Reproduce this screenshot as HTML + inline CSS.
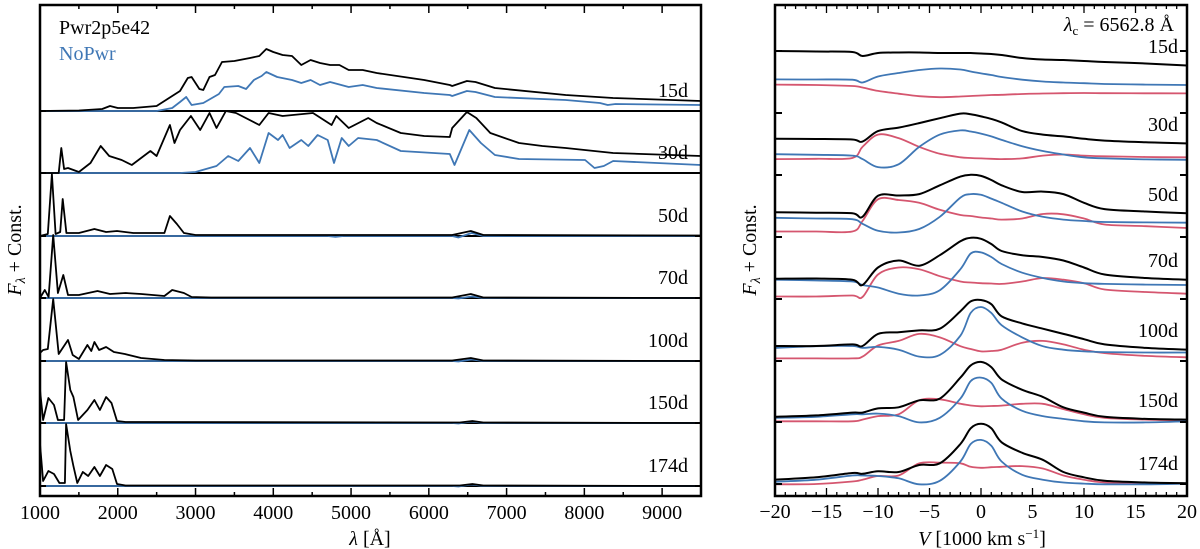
<!DOCTYPE html>
<html><head><meta charset="utf-8">
<style>
html,body{margin:0;padding:0;background:#fff;}
svg{display:block;font-family:"Liberation Serif","DejaVu Serif",serif;}
</style></head>
<body>
<svg id="chart" width="1200" height="549" viewBox="0 0 1200 549" xmlns="http://www.w3.org/2000/svg">
<g id="left"></g>
<g id="right"></g>
</svg>
<script>
// ---------- data ----------
const epochs = ["15d","30d","50d","70d","100d","150d","174d"];
const leftOffsets = [38.5,32.3,26.0,19.8,13.5,7.3,1.0];
const rightOffsets = [0,0,0,0,0,0,0];
const rightTicks = [44.5,38.3,32.1,25.9,19.7,13.5,7.4,1.2];
const lambdaTicks = [1000,2000,3000,4000,5000,6000,7000,8000,9000];
const velTicks = [-20,-15,-10,-5,0,5,10,15,20];
const velTickLabels = ["\u221220","\u221215","\u221210","\u22125","0","5","10","15","20"];

const wl15b=[1000,1500,1800,1900,2000,2200,2500,2600,2700,2800,2900,2950,3050,3100,3180,3250,3340,3500,3700,3820,3910,4000,4120,4240,4360,4480,4600,4730,4850,4970,5150,5330,5940,6270,6300,6490,6600,6850,7760,8370,9500];
const f15b=[0,0.05,0.2,0.5,0.3,0.3,0.5,1.0,1.5,2.0,3.3,3.4,2.2,2.1,3.4,3.6,4.9,5.0,5.3,5.5,6.2,5.9,5.6,5.5,4.6,5.1,4.8,4.6,4.6,4.1,4.1,3.8,3.1,2.6,2.5,3.0,2.9,2.3,1.6,1.3,1.0];
const wl15n=[1000,2500,2700,2800,2880,2950,3100,3300,3370,3550,3650,3750,3850,3910,4050,4240,4360,4480,4600,4730,4970,5150,5330,5940,6270,6300,6490,6600,6850,7760,8200,8300,8400,9500];
const f15n=[0,0,0.3,0.9,1.4,0.6,0.8,1.7,2.4,2.5,2.2,3.1,3.5,3.9,3.4,3.1,2.8,3.1,2.6,2.9,2.4,2.6,2.3,1.8,1.6,1.5,2.0,1.9,1.4,1.1,0.8,0.6,0.7,0.6];
const wl30b=[1000,1240,1274,1310,1360,1500,1650,1780,1890,2050,2180,2420,2500,2670,2730,2800,2940,3060,3180,3270,3390,3520,3820,3940,4120,4510,4750,4810,4970,5220,5330,5640,5940,6270,6300,6490,6610,6790,7160,7460,7760,8370,9500];
const f30b=[0,0,2.5,0.4,0.5,0.1,1.0,2.7,1.7,1.3,0.8,2.2,1.7,4.8,3.0,4.3,5.7,4.3,6.0,4.5,6.2,6.0,4.8,6.0,5.7,6.0,4.8,5.7,4.5,5.5,5.0,4.0,3.7,3.6,4.5,6.1,5.5,4.0,3.0,2.7,2.5,2.0,1.7];
const wl30n=[1000,2800,3000,3270,3420,3550,3700,3820,3940,4060,4120,4210,4360,4450,4570,4700,4780,4880,4970,5090,5330,5640,6270,6330,6520,6670,6850,7160,8010,8130,8250,8370,9500];
const f30n=[0,0,0.1,0.7,1.7,1.2,2.5,1.0,4.0,3.3,3.8,2.5,3.3,2.7,3.8,3.3,1.0,3.5,2.7,3.5,3.3,2.2,1.9,0.8,4.3,3.0,1.8,1.4,1.3,0.5,0.7,1.2,0.8];
const wl50b=[1000,1100,1153,1200,1260,1292,1340,1500,1700,1850,1990,2200,2600,2670,2760,2850,3000,6300,6540,6700,9500];
const f50b=[0,0.2,6.2,0.2,0.4,3.7,0.3,0.3,0.7,0.4,0.5,0.3,0.3,2.0,1.2,0.3,0.1,0.1,0.5,0.1,0.05];
const wl70b=[1000,1062,1110,1170,1230,1300,1360,1500,1740,1900,2100,2300,2600,2700,2850,2950,3200,6300,6540,6700,9500];
const f70b=[0,0.8,0.1,6.3,0.5,2.3,0.3,0.3,0.7,0.4,0.5,0.4,0.2,0.8,0.5,0.1,0.05,0.05,0.4,0.05,0];
const wl100b=[1000,1040,1100,1170,1240,1360,1420,1500,1610,1660,1700,1760,1850,1950,2090,2300,2600,3000,6300,6540,6700,9500];
const f100b=[0.8,1.1,1.2,6.2,0.7,2.1,0.6,0.2,1.6,1.0,1.9,1.1,1.4,0.9,0.7,0.3,0.1,0.05,0.05,0.3,0.05,0];
const wl150b=[1000,1040,1108,1180,1230,1310,1335,1390,1430,1490,1610,1700,1770,1850,1920,1990,2100,6400,6560,6700,9500];
const f150b=[3.3,0.3,2.5,1.8,0.3,0.3,6.1,3.3,2.6,0.3,1.3,2.3,1.3,2.6,2.0,0.2,0.1,0.05,0.2,0.05,0];
const wl174b=[1000,1040,1108,1180,1250,1320,1335,1390,1430,1480,1550,1620,1700,1770,1850,1930,1990,2100,6400,6560,6700,9500];
const f174b=[4.2,0.5,1.5,1.2,0.3,0.3,6.2,3.5,2.0,0.3,1.4,1.0,1.9,1.0,2.1,1.7,0.2,0.05,0.05,0.2,0.05,0];
const wlFlat=[1000,4700,4800,4900,6300,6380,6550,6700,9500];
const f50n=[0,0,-0.08,0,0,-0.15,0.3,0,0];
const fLate=[0,0,0,0,0,-0.05,0.15,0,0];

const vel=[-20,-16,-12.5,-11.5,-10,-8,-6,-4,-2,-1,0,1,2,4,6,8,10,12,16,20];
const r15k=[44.5,44.45,44.4,44.0,44.3,44.35,44.35,44.3,44.3,44.3,44.25,44.2,44.1,43.8,43.65,43.6,43.5,43.4,43.25,43.05];
const r15b=[41.66,41.65,41.63,41.35,41.95,42.3,42.6,42.75,42.65,42.45,42.26,42.1,41.9,41.63,41.45,41.35,41.28,41.2,41.14,41.1];
const r15r=[41.14,41.1,41.0,40.85,40.51,40.23,39.98,39.88,39.95,40.0,40.05,40.1,40.12,40.2,40.25,40.28,40.3,40.28,40.27,40.26];
const r30k=[35.72,35.7,35.65,35.44,36.49,36.84,37.29,37.78,38.24,38.17,37.96,37.71,37.36,36.49,36.14,35.96,35.72,35.54,35.37,35.26];
const r30b=[34.18,34.12,34.04,33.69,32.89,33.17,34.91,36.14,36.56,36.45,36.24,35.96,35.61,34.98,34.5,34.15,33.87,33.76,33.66,33.62];
const r30r=[33.69,33.72,33.8,34.91,36.14,35.79,34.91,34.22,33.87,33.8,33.76,33.72,33.69,33.76,34.04,34.15,34.04,33.97,33.9,33.87];
const r50k=[28.38,28.33,28.27,27.92,30.02,30.05,30.19,31.07,31.94,32.12,32.01,31.6,31.07,30.4,30.44,30.19,29.32,28.69,28.45,28.27];
const r50b=[27.82,27.75,27.68,27.22,26.52,26.35,26.7,27.92,29.84,30.19,30.12,29.74,29.32,28.45,27.92,27.64,27.5,27.4,27.36,27.33];
const r50r=[26.45,26.45,26.45,27.5,29.67,29.6,29.32,28.62,28.1,28.0,27.85,27.75,27.64,27.75,28.2,28.17,27.75,27.15,26.98,26.8];
const r70k=[21.73,21.75,21.63,21.1,22.85,23.55,23.03,24.08,25.47,25.82,25.72,25.2,24.5,24.08,23.9,23.55,22.85,22.15,21.8,21.63];
const r70b=[21.63,21.55,21.45,21.1,20.85,20.23,20.05,20.58,22.68,24.25,24.36,23.9,23.2,22.33,21.8,21.45,21.28,21.21,21.14,21.1];
const r70r=[19.95,19.95,20.05,19.9,22.15,22.85,22.68,21.98,21.45,21.35,21.28,21.25,21.21,21.45,21.8,21.63,21.28,20.65,20.4,20.23];
const r100k=[15.0,15.0,15.16,15.0,16.21,16.38,16.56,16.73,18.48,19.46,19.6,19.18,17.96,17.26,16.73,16.21,15.68,15.16,14.81,14.63];
const r100b=[14.81,14.98,15.0,14.81,14.91,14.63,13.94,14.11,16.03,18.31,18.9,18.31,17.08,15.86,14.98,14.63,14.46,14.39,14.35,14.35];
const r100r=[13.76,13.76,13.76,13.94,15.05,15.51,16.21,15.86,14.98,14.7,14.46,14.5,14.63,15.33,15.51,15.16,14.63,14.29,14.01,13.87];
const r150k=[7.92,8.06,8.34,8.34,8.76,8.87,9.57,9.74,11.84,13.06,13.41,12.89,11.66,10.62,9.91,8.87,8.34,7.92,7.71,7.64];
const r150b=[7.82,7.92,8.17,8.17,8.24,7.99,7.36,7.82,9.74,11.49,11.84,11.31,9.74,8.52,7.99,7.71,7.47,7.36,7.36,7.47];
const r150r=[7.47,7.47,7.47,7.64,7.99,8.17,9.57,9.67,9.22,9.05,8.97,9.0,9.04,9.22,9.22,8.69,8.17,7.82,7.64,7.57];
const r174k=[1.63,1.87,2.3,2.22,2.47,2.4,3.1,3.27,5.2,6.77,7.22,6.77,5.37,4.32,3.62,2.4,1.87,1.52,1.35,1.28];
const r174b=[1.42,1.63,2.05,2.05,2.0,1.77,1.17,1.52,3.45,5.2,5.61,5.02,3.45,2.12,1.63,1.35,1.24,1.17,1.17,1.24];
const r174r=[1.17,1.2,1.45,1.63,2.0,2.05,3.27,3.34,3.27,2.92,2.82,2.88,2.92,2.99,2.75,2.05,1.63,1.35,1.24,1.24];

// ---------- scales ----------
const NS="http://www.w3.org/2000/svg";
const L={x0:40,x1:701,y0:5,y1:496};
const R={x0:775,x1:1187,y0:5,y1:496};
function xl(w){return L.x0+(w-1000)*(L.x1-L.x0)/8500;}
function xr(v){return R.x0+(v+20)*(R.x1-R.x0)/40;}
function yf(f){return 496-f*10;}
const BLACK="#000",BLUE="#3f77b5",RED="#d5566f";
const FS=20;

function mk(tag,attrs,parent){const e=document.createElementNS(NS,tag);for(const k in attrs)e.setAttribute(k,attrs[k]);parent.appendChild(e);return e;}
function txt(s,x,y,anchor,parent,size,fill){const t=mk("text",{x:x,y:y,"text-anchor":anchor,"font-size":size||FS,fill:fill||"#000"},parent);t.textContent=s;return t;}

const left=document.getElementById("left");
const right=document.getElementById("right");

function linePath(xs,ys,fx,off){return xs.map((x,i)=>(i?"L":"M")+fx(x).toFixed(1)+","+yf(ys[i]+off).toFixed(1)).join(" ");}
function smoothPath(xs,ys,fx,off){
  const P=xs.map((x,i)=>[fx(x),yf(ys[i]+off)]);
  let d="M"+P[0][0].toFixed(1)+","+P[0][1].toFixed(1);
  for(let i=0;i<P.length-1;i++){
    const p0=P[Math.max(0,i-1)],p1=P[i],p2=P[i+1],p3=P[Math.min(P.length-1,i+2)];
    const c1=[p1[0]+(p2[0]-p0[0])/6,p1[1]+(p2[1]-p0[1])/6];
    const c2=[p2[0]-(p3[0]-p1[0])/6,p2[1]-(p3[1]-p1[1])/6];
    d+=" C"+c1[0].toFixed(1)+","+c1[1].toFixed(1)+" "+c2[0].toFixed(1)+","+c2[1].toFixed(1)+" "+p2[0].toFixed(1)+","+p2[1].toFixed(1);
  }
  return d;
}

const leftSeries=[
 [wl15b,f15b,wl15n,f15n],[wl30b,f30b,wl30n,f30n],[wl50b,f50b,wlFlat,f50n],
 [wl70b,f70b,wlFlat,fLate],[wl100b,f100b,wlFlat,fLate],[wl150b,f150b,wlFlat,fLate],[wl174b,f174b,wlFlat,fLate]];

leftSeries.forEach((s,i)=>{
  const off=leftOffsets[i];
  const sep=mk("line",{x1:L.x0,x2:L.x1,y1:yf(off),y2:yf(off),stroke:"#000","stroke-width":2},left);
  
  
  const pb=mk("path",{d:linePath(s[2],s[3],xl,off),fill:"none",stroke:BLUE,"stroke-width":1.8,"stroke-linejoin":"round"},left);
  
  
  const pk=mk("path",{d:linePath(s[0],s[1],xl,off),fill:"none",stroke:BLACK,"stroke-width":1.8,"stroke-linejoin":"round"},left);
  
  
  const lb=txt(epochs[i],688,yf(off)-14,"end",left,FS);
  
  
  [L.x0,L.x1-6].forEach(x=>{mk("line",{x1:x,x2:x+6,y1:yf(off),y2:yf(off),stroke:"#000","stroke-width":2},left);});
});
const lf=mk("rect",{x:L.x0,y:L.y0,width:L.x1-L.x0,height:L.y1-L.y0,fill:"none",stroke:"#000","stroke-width":2.5},left);


for(let w=1000;w<=9500;w+=500){
  const major=(w%1000===0);const len=major?8:4;
  mk("line",{x1:xl(w),x2:xl(w),y1:L.y1,y2:L.y1-len,stroke:"#000","stroke-width":1.5},left);
  mk("line",{x1:xl(w),x2:xl(w),y1:L.y0,y2:L.y0+len,stroke:"#000","stroke-width":1.5},left);
}
lambdaTicks.forEach(w=>{const t=txt(String(w),xl(w),519,"middle",left,FS);
  
  });
const lxt=mk("text",{x:370,y:545,"text-anchor":"middle","font-size":FS},left);
lxt.innerHTML='<tspan font-style="italic">λ</tspan> [Å]';


const lyt=mk("text",{x:0,y:0,"text-anchor":"middle","font-size":FS,transform:"translate(21,250) rotate(-90)"},left);
lyt.innerHTML='<tspan font-style="italic">F</tspan><tspan font-style="italic" font-size="14" dy="4">λ</tspan><tspan dy="-4"> + Const.</tspan>';


const lg1=txt("Pwr2p5e42",59,34,"start",left,FS,"#000");


const lg2=txt("NoPwr",59,60,"start",left,FS,BLUE);



const rightSeries=[[r15k,r15b,r15r],[r30k,r30b,r30r],[r50k,r50b,r50r],[r70k,r70b,r70r],[r100k,r100b,r100r],[r150k,r150b,r150r],[r174k,r174b,r174r]];
const rightLabelY=[53,131,201,267,337,407,470];
rightSeries.forEach((s,i)=>{
  const off=rightOffsets[i];
  const pr=mk("path",{d:smoothPath(vel,s[2],xr,off),fill:"none",stroke:RED,"stroke-width":1.8,"stroke-linejoin":"round"},right);
  
  
  const pb=mk("path",{d:smoothPath(vel,s[1],xr,off),fill:"none",stroke:BLUE,"stroke-width":1.8,"stroke-linejoin":"round"},right);
  
  
  const pk=mk("path",{d:smoothPath(vel,s[0],xr,off),fill:"none",stroke:BLACK,"stroke-width":2,"stroke-linejoin":"round"},right);
  
  
  const lb=txt(epochs[i],1178,rightLabelY[i],"end",right,FS);
  
  
});
rightTicks.forEach(f=>{
  mk("line",{x1:R.x0,x2:R.x0+7,y1:yf(f),y2:yf(f),stroke:"#000","stroke-width":2},right);
  mk("line",{x1:R.x1-7,x2:R.x1,y1:yf(f),y2:yf(f),stroke:"#000","stroke-width":2},right);
});
const rf=mk("rect",{x:R.x0,y:R.y0,width:R.x1-R.x0,height:R.y1-R.y0,fill:"none",stroke:"#000","stroke-width":2.5},right);


for(let v=-20;v<=20;v+=1){
  const major=(v%5===0);const len=major?8:4;
  mk("line",{x1:xr(v),x2:xr(v),y1:R.y1,y2:R.y1-len,stroke:"#000","stroke-width":1.3},right);
  mk("line",{x1:xr(v),x2:xr(v),y1:R.y0,y2:R.y0+len,stroke:"#000","stroke-width":1.3},right);
}
velTicks.forEach((v,i)=>{const t=txt(velTickLabels[i],xr(v),518,"middle",right,FS);
  
  });
const rxt=mk("text",{x:982,y:545,"text-anchor":"middle","font-size":FS},right);
rxt.innerHTML='<tspan font-style="italic">V</tspan> [1000 km s<tspan font-size="13" dy="-7">−1</tspan><tspan dy="7">]</tspan>';


const ryt=mk("text",{x:0,y:0,"text-anchor":"middle","font-size":FS,transform:"translate(756,250) rotate(-90)"},right);
ryt.innerHTML='<tspan font-style="italic">F</tspan><tspan font-style="italic" font-size="14" dy="4">λ</tspan><tspan dy="-4"> + Const.</tspan>';


const lc=mk("text",{x:1174,y:31,"text-anchor":"end","font-size":FS},right);
lc.innerHTML='<tspan font-style="italic">λ</tspan><tspan font-size="13" dy="4">c</tspan><tspan dy="-4"> = 6562.8 Å</tspan>';


</script>
</body></html>
